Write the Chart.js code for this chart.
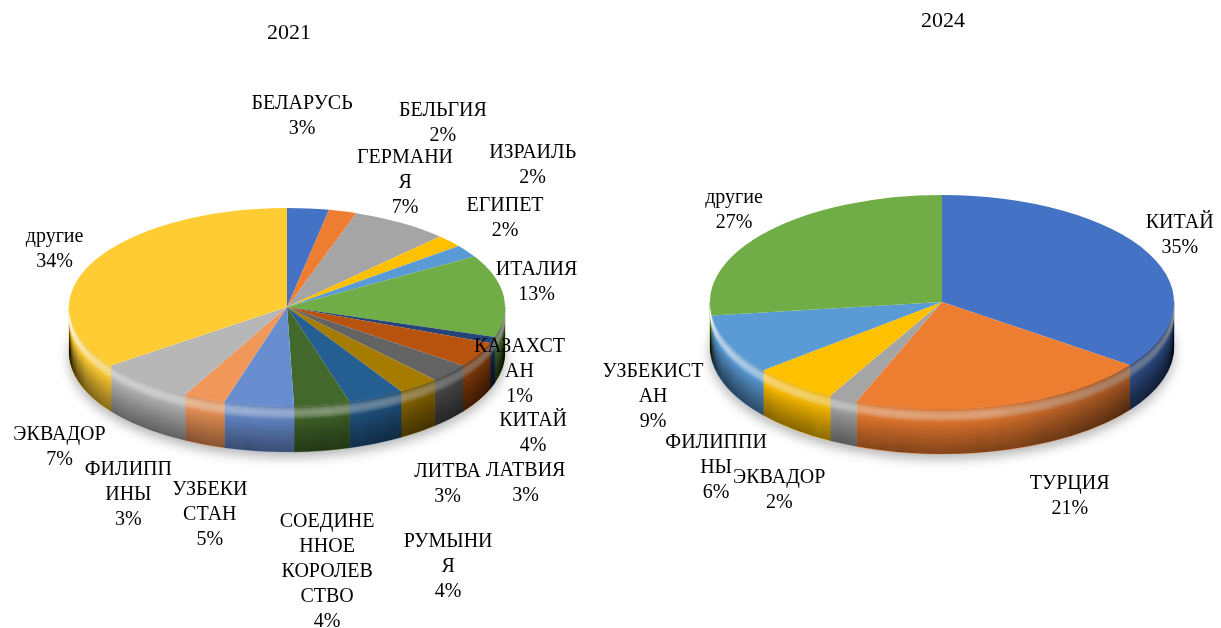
<!DOCTYPE html>
<html><head><meta charset="utf-8">
<script src="https://cdn.jsdelivr.net/npm/chart.js@4.4.1/dist/chart.umd.min.js"></script>
<style>
html,body{margin:0;padding:0;background:#fff;overflow:hidden;}
#wrap{position:relative;width:1221px;height:628px;overflow:hidden;}
canvas{position:absolute;top:0;}
</style></head><body>
<div id="wrap">
<canvas id="c1" width="590" height="628" style="left:0px"></canvas>
<canvas id="c2" width="686" height="628" style="left:600px"></canvas>
</div>
<script>
// ---- data ----
const title2021 = '2021';
const categories2021 = ['БЕЛАРУСЬ','БЕЛЬГИЯ','ГЕРМАНИЯ','ИЗРАИЛЬ','ЕГИПЕТ','ИТАЛИЯ','КАЗАХСТАН','КИТАЙ','ЛАТВИЯ','ЛИТВА','РУМЫНИЯ','СОЕДИНЕННОЕ КОРОЛЕВСТВО','УЗБЕКИСТАН','ФИЛИППИНЫ','ЭКВАДОР','другие'];
const values2021 = [3,2,7,2,2,13,1,4,3,3,4,4,5,3,7,34];

const title2024 = '2024';
const categories2024 = ['КИТАЙ','ТУРЦИЯ','ЭКВАДОР','ФИЛИППИНЫ','УЗБЕКИСТАН','другие'];
const values2024 = [35,21,2,6,9,27];

// ---- styling / layout ----
const colors2021 = ['#4472C4','#ED7D31','#A5A5A5','#FFC000','#5B9BD5','#70AD47','#264478','#B8530F','#636363','#A67C00','#255E91','#43682B','#698ED0','#F1975A','#B7B7B7','#FFCD33'];
const colors2024 = ['#4472C4','#ED7D31','#A5A5A5','#FFC000','#5B9BD5','#70AD47'];
const wrapLen2021 = [0,0,7,0,0,0,7,0,0,0,6,7,6,6,0,0];
const wrapLen2024 = [0,0,0,7,8,0];
const nudge2021 = [[-6,-92],[100,-88],[4,-40],[83,-76],[38,-33],[33,-14],[27,32],[55,79],[76,110],[29,98],[72,169],[5,167],[-49,110],[-76,96],[-85,65],[-38,-13]];
const nudge2024 = [[31,-18],[63,91],[-64,91],[-78,83],[-76,52],[-34,-21]];
const FONT = "'Liberation Serif','Times New Roman',serif";

function wrapName(name, n){
  if(!n) return [name];
  const out=[];
  name.split(' ').forEach(w=>{ for(let i=0;i<w.length;i+=n) out.push(w.slice(i,i+n)); });
  return out;
}
function shade(hex, f){
  const r=parseInt(hex.slice(1,3),16),g=parseInt(hex.slice(3,5),16),b=parseInt(hex.slice(5,7),16);
  const m=c=>Math.max(0,Math.min(255,Math.round(f<0?c*(1+f):c+(255-c)*f)));
  return 'rgb('+m(r)+','+m(g)+','+m(b)+')';
}

const pie3d = {
  id:'pie3d',
  beforeDatasetsDraw(chart){
    const o = chart.options.plugins.pie3d;
    const E = o.ellipse;
    const ctx = chart.ctx;
    const meta = chart.getDatasetMeta(0);
    const arcs = meta.data;
    const cols = chart.data.datasets[0].backgroundColor;
    // soft shadow under the pie
    ctx.save();
    ctx.shadowColor='rgba(0,0,0,0.3)'; ctx.shadowBlur=12; ctx.shadowOffsetY=5;
    ctx.fillStyle='#fff';
    ctx.beginPath(); ctx.ellipse(E.cx,E.cy+E.depth,E.rx,E.ry,0,0,Math.PI*2); ctx.fill();
    ctx.restore();
    // sides
    ctx.save();
    arcs.forEach((el,i)=>{
      const a1=Math.max(el.startAngle,0), a2=Math.min(el.endAngle,Math.PI);
      if(a1>=a2) return;
      ctx.beginPath();
      ctx.ellipse(E.cx,E.cy,E.rx,E.ry,0,a1,a2,false);
      ctx.lineTo(E.cx+E.rx*Math.cos(a2),E.cy+E.ry*Math.sin(a2)+E.depth);
      ctx.ellipse(E.cx,E.cy+E.depth,E.rx,E.ry,0,a2,a1,true);
      ctx.closePath();
      ctx.fillStyle=shade(cols[i],-0.04);
      ctx.fill();
      ctx.strokeStyle=shade(cols[i],-0.04); ctx.lineWidth=0.6; ctx.stroke();
    });
    // rim-relative shading
    ctx.beginPath();
    ctx.ellipse(E.cx,E.cy,E.rx,E.ry,0,0,Math.PI,false);
    ctx.lineTo(E.cx-E.rx,E.cy+E.depth);
    ctx.ellipse(E.cx,E.cy+E.depth,E.rx,E.ry,0,Math.PI,0,true);
    ctx.closePath();
    ctx.clip();
    for(let d=0; d<=E.depth; d+=1){
      const t=d/E.depth;
      let col;
      if(t<0.3){ const a=0.28*Math.sin(Math.PI*t/0.3); col='rgba(255,255,255,'+a.toFixed(3)+')'; }
      else { const a=0.28*(t-0.3)/0.7; col='rgba(0,0,0,'+a.toFixed(3)+')'; }
      ctx.strokeStyle=col; ctx.lineWidth=1.6;
      ctx.beginPath(); ctx.ellipse(E.cx,E.cy+d,E.rx,E.ry,0,0,Math.PI,false); ctx.stroke();
    }
    const g=ctx.createLinearGradient(E.cx-E.rx,0,E.cx+E.rx,0);
    g.addColorStop(0,'rgba(0,0,0,0)');
    g.addColorStop(0.6,'rgba(0,0,0,0.08)');
    g.addColorStop(1,'rgba(0,0,0,0.4)');
    ctx.fillStyle=g;
    ctx.fillRect(E.cx-E.rx-2,E.cy-2,E.rx*2+4,E.ry+E.depth+4);
    ctx.restore();
    // transform so the library's round pie is drawn as the top ellipse
    const a0=arcs[0];
    const R=a0.outerRadius;
    ctx.save();
    ctx.translate(E.cx,E.cy);
    ctx.scale(E.rx/R,E.ry/R);
    ctx.translate(-a0.x,-a0.y);
  },
  afterDatasetsDraw(chart){
    chart.ctx.restore();
  },
  afterDraw(chart){
    const o = chart.options.plugins.pie3d;
    const E = o.ellipse;
    const ctx = chart.ctx;
    const meta = chart.getDatasetMeta(0);
    const ds = chart.data.datasets[0];
    ctx.save();
    ctx.fillStyle='#000';
    ctx.font = o.fontSize+'px '+FONT;
    ctx.textAlign='center'; ctx.textBaseline='middle';
    meta.data.forEach((el,i)=>{
      const m=(el.startAngle+el.endAngle)/2;
      const bx=E.cx+E.rx*Math.cos(m), by=E.cy+E.ry*Math.sin(m);
      const lines=wrapName(chart.data.labels[i],o.wrap[i]).concat([ds.data[i]+'%']);
      const x=bx+o.nudge[i][0], yc=by+o.nudge[i][1];
      lines.forEach((s,k)=>{ ctx.fillText(s,x,yc+(k-(lines.length-1)/2)*o.lineHeight); });
    });
    ctx.restore();
  }
};

function makePie(id, title, cats, vals, cols, titleTop, padRight, ellipse, wrap, nudge){
  return new Chart(document.getElementById(id),{
    type:'pie',
    data:{labels:cats,datasets:[{data:vals,backgroundColor:cols,borderWidth:0,clip:false}]},
    options:{
      responsive:false, animation:false, events:[],
      layout:{padding:{left:0,right:padRight,top:0,bottom:0}},
      plugins:{
        legend:{display:false}, tooltip:{enabled:false},
        title:{display:true,text:title,color:'#000',font:{family:FONT,size:22,weight:'normal',lineHeight:1.2},padding:{top:titleTop,bottom:0}},
        pie3d:{ellipse:ellipse,wrap:wrap,nudge:nudge,fontSize:20,lineHeight:25}
      }
    },
    plugins:[pie3d]
  });
}

makePie('c1', title2021, categories2021, values2021, colors2021, 20, 12,
  {cx:287, cy:307, rx:218, ry:99, depth:46}, wrapLen2021, nudge2021);
makePie('c2', title2024, categories2024, values2024, colors2024, 8, 0,
  {cx:342, cy:302, rx:232, ry:107, depth:45}, wrapLen2024, nudge2024);
</script>
</body></html>
